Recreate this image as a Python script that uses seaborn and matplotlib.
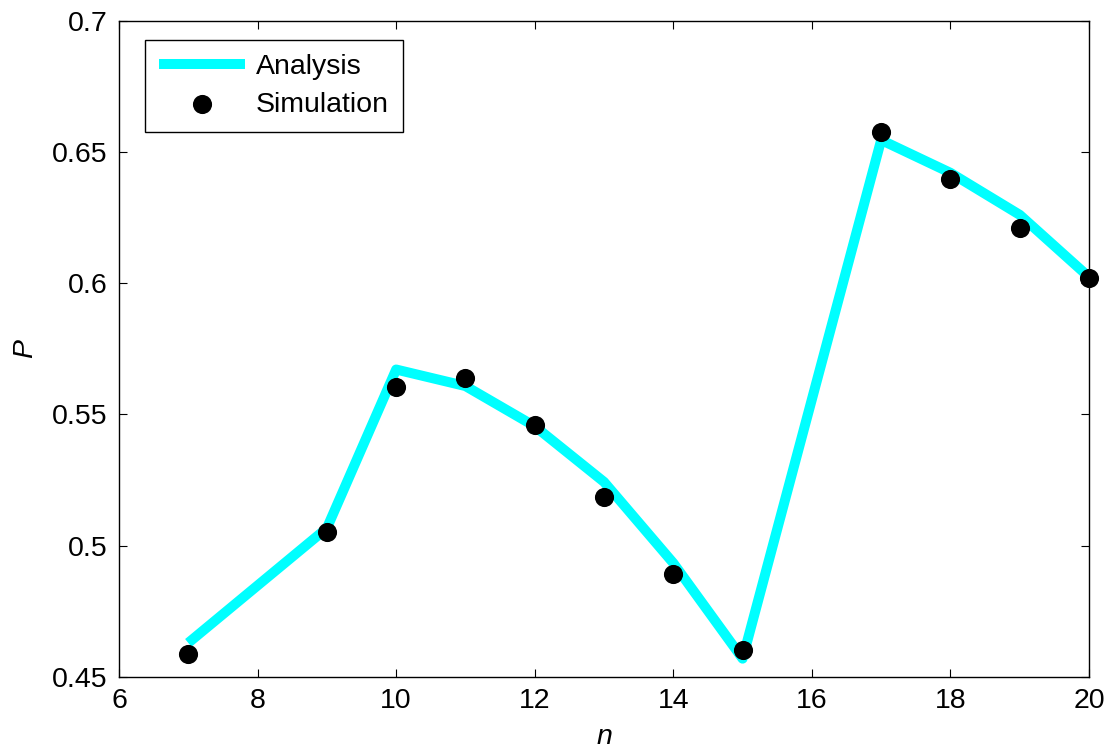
import numpy as np
import pandas as pd
import matplotlib
matplotlib.use("Agg")
import matplotlib.pyplot as plt
import seaborn as sns

# Success probability P versus n: analytical curve and simulated points
n_values = [7, 9, 10, 11, 12, 13, 14, 15, 17, 18, 19, 20]
p_analysis = [0.463, 0.5067, 0.5671, 0.5608, 0.5455, 0.5243, 0.4934, 0.4570,
              0.6545, 0.6420, 0.6260, 0.6023]
p_simulation = [0.4588, 0.5052, 0.5604, 0.5639, 0.5459, 0.5185, 0.4892, 0.4603,
                0.6577, 0.6396, 0.6210, 0.6019]

x_ticks = [6, 8, 10, 12, 14, 16, 18, 20]
y_ticks = [0.45, 0.5, 0.55, 0.6, 0.65, 0.7]
y_tick_labels = ["0.45", "0.5", "0.55", "0.6", "0.65", "0.7"]

df = pd.DataFrame({"n": n_values, "analysis": p_analysis, "simulation": p_simulation})

sns.set_theme(style="white")
plt.rcParams["font.family"] = ["Liberation Sans", "DejaVu Sans"]
plt.rcParams["xtick.direction"] = "in"
plt.rcParams["ytick.direction"] = "in"
plt.rcParams["text.color"] = "black"
plt.rcParams["axes.labelcolor"] = "black"

fig = plt.figure(figsize=(11.09, 7.52), dpi=100)
ax = fig.add_axes([0.1073, 0.0997, 0.8747, 0.873])

sns.lineplot(data=df, x="n", y="analysis", ax=ax, color="#00FFFF", linewidth=7.2,
             label="Analysis", zorder=2, solid_capstyle="butt",
             solid_joinstyle="round")
sns.scatterplot(data=df, x="n", y="simulation", ax=ax, color="black", s=190,
                edgecolor="black", linewidth=0, label="Simulation", zorder=3,
                clip_on=False)

ax.set_xlim(6, 20)
ax.set_ylim(0.45, 0.7)
ax.set_xticks(x_ticks)
ax.set_yticks(y_ticks)
ax.set_yticklabels(y_tick_labels)
ax.tick_params(axis="both", which="both", labelsize=20.5, length=6, width=0.8,
               color="black", top=True, right=True, bottom=True, left=True,
               pad=8, labelcolor="black")

for side in ax.spines.values():
    side.set_visible(True)
    side.set_color("black")
    side.set_linewidth(1.0)

ax.set_xlabel("n", fontsize=20.5, style="italic")
ax.set_ylabel("P", fontsize=20.5, style="italic")
ax.xaxis.set_label_coords(0.5, -0.072)
ax.yaxis.set_label_coords(-0.083, 0.5)

leg = ax.legend(loc="upper left", bbox_to_anchor=(0.027, 0.971), fontsize=20.5,
                frameon=True, fancybox=False, edgecolor="black", framealpha=1,
                handlelength=3.0, handletextpad=0.38, borderpad=0.5,
                labelspacing=0.42, borderaxespad=0)
leg.get_frame().set_linewidth(1.0)
for t in leg.get_texts():
    t.set_color("black")

fig.savefig("out.png", dpi=100, facecolor="white")
